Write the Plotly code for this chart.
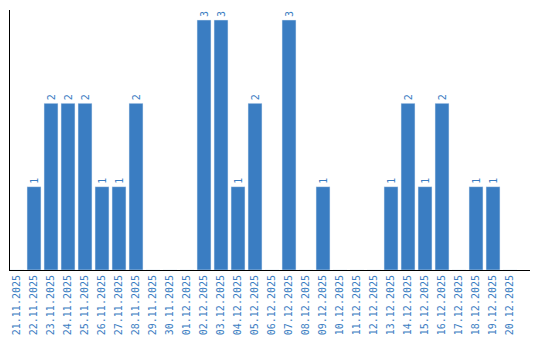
import plotly.graph_objects as go

dates = ["21.11.2025", "22.11.2025", "23.11.2025", "24.11.2025", "25.11.2025", "26.11.2025",
         "27.11.2025", "28.11.2025", "29.11.2025", "30.11.2025", "01.12.2025", "02.12.2025",
         "03.12.2025", "04.12.2025", "05.12.2025", "06.12.2025", "07.12.2025", "08.12.2025",
         "09.12.2025", "10.12.2025", "11.12.2025", "12.12.2025", "13.12.2025", "14.12.2025",
         "15.12.2025", "16.12.2025", "17.12.2025", "18.12.2025", "19.12.2025", "20.12.2025"]
counts = [0, 1, 2, 2, 2, 1, 1, 2, 0, 0, 0, 3, 3, 1, 2, 0, 3, 0, 1, 0, 0, 0, 1, 2, 1, 2, 0, 1, 1, 0]

blue = "#3a7dc2"
labels = [str(v) if v > 0 else "" for v in counts]

fig = go.Figure(go.Bar(
    x=list(range(len(dates))), y=counts, marker_color=blue,
    text=labels, textposition="outside", textangle=-90,
    textfont=dict(color=blue, size=10, family="DejaVu Sans Mono"),
    cliponaxis=False, width=0.82,
))
fig.update_layout(
    width=540, height=340, margin=dict(l=10, r=10, t=10, b=70),
    plot_bgcolor="white", paper_bgcolor="white", showlegend=False,
    font=dict(family="DejaVu Sans Mono"),
)
fig.update_xaxes(
    tickmode="array", tickvals=list(range(len(dates))), ticktext=dates,
    tickangle=-90, tickfont=dict(color=blue, size=10, family="DejaVu Sans Mono"),
    range=[-0.412, 30.176], showline=True, linecolor="black", linewidth=1,
    showgrid=False, zeroline=False, ticks="", automargin=False,
)
fig.update_yaxes(
    range=[0, 3.12], showline=True, linecolor="black", linewidth=1,
    showgrid=False, zeroline=False, showticklabels=False, ticks="", automargin=False,
)
fig.write_html("out.html")
